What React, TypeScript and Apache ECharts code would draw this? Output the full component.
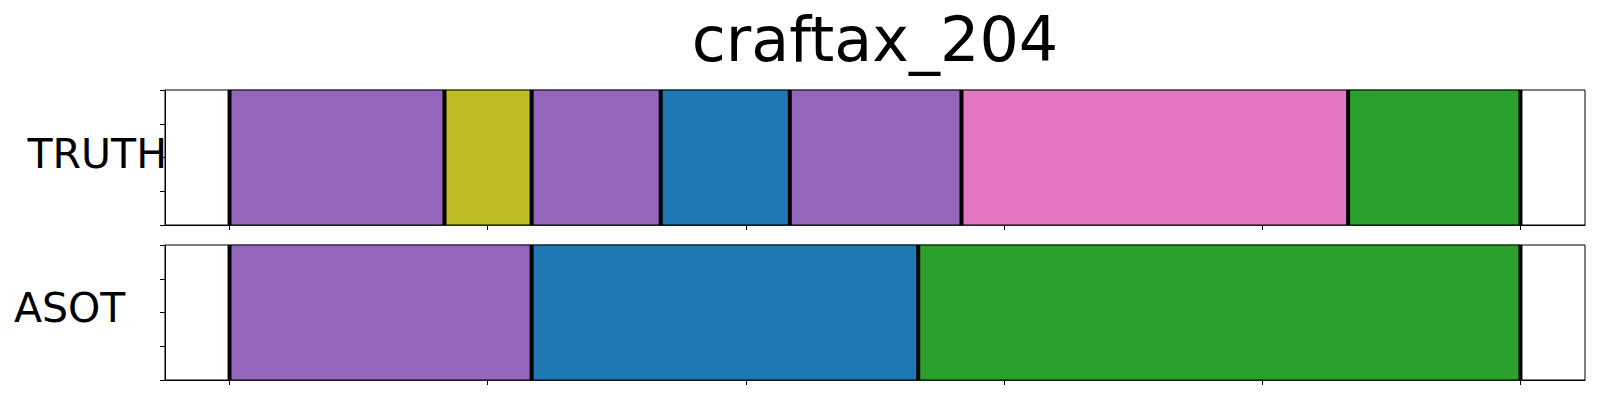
import React, { useEffect, useRef } from "react";
import * as echarts from "echarts";

const chartTitle = "craftax_204";
const rowNames = ["TRUTH", "ASOT"];
const xTicks = [0, 200, 400, 600, 800, 1000];
const yTicks = [0, 0.25, 0.5, 0.75, 1];

// segment boundaries (frame positions) and action ids per segment
const truthBounds = [0, 166.5, 234, 334, 434, 567, 866.5, 1000];
const truthActions = [4, 8, 4, 0, 4, 6, 2];
const asotBounds = [0, 234, 533.5, 1000];
const asotActions = [4, 0, 2];

const palette = [
  "#1f77b4", "#ff7f0e", "#2ca02c", "#d62728", "#9467bd",
  "#8c564b", "#e377c2", "#7f7f7f", "#bcbd22", "#17becf",
];

const FONT = "DejaVu Sans";

function segData(bounds: number[], actions: number[]) {
  return actions.map((a, i) => [bounds[i], bounds[i + 1], a]);
}

export default function App() {
  const ref = useRef<HTMLDivElement>(null);
  useEffect(() => {
    if (!ref.current) return;
    const chart = echarts.init(ref.current, null, { renderer: "svg" });
    const grids = [
      { left: 165, top: 90, width: 1420, height: 135 },
      { left: 165, top: 245, width: 1420, height: 135 },
    ];
    const xAxes = grids.map((_, i) => ({
      type: "value",
      gridIndex: i,
      min: -50,
      max: 1050,
      axisLine: { show: true, onZero: false, lineStyle: { color: "#000", width: 1 } },
      axisTick: {
        show: true,
        customValues: xTicks,
        length: 5,
        inside: false,
        lineStyle: { color: "#000", width: 1 },
      },
      axisLabel: { show: false },
      splitLine: { show: false },
    }));
    const yAxes = grids.map((_, i) => ({
      type: "value",
      gridIndex: i,
      position: "left",
      min: 0,
      max: 1,
      axisLine: { show: true, onZero: false, lineStyle: { color: "#000", width: 1 } },
      axisTick: {
        show: true,
        customValues: yTicks,
        length: 5,
        inside: false,
        lineStyle: { color: "#000", width: 1 },
      },
      axisLabel: { show: false },
      splitLine: { show: false },
    }));
    const segRender = (params: any, api: any) => {
      const s = api.value(0);
      const e = api.value(1);
      const a = api.value(2);
      const p0 = api.coord([s, 1]);
      const p1 = api.coord([e, 0]);
      return {
        type: "rect",
        shape: { x: p0[0], y: p0[1], width: p1[0] - p0[0], height: p1[1] - p0[1] },
        style: { fill: palette[a], stroke: palette[a], lineWidth: 1 },
      };
    };
    const lineRender = (params: any, api: any) => {
      const b = api.value(0);
      const p0 = api.coord([b, 0]);
      const p1 = api.coord([b, 1]);
      return {
        type: "line",
        shape: { x1: p0[0], y1: p0[1], x2: p1[0], y2: p1[1] },
        style: { stroke: "#000", lineWidth: 4 },
      };
    };
    const series: any[] = [];
    [
      [truthBounds, truthActions],
      [asotBounds, asotActions],
    ].forEach(([bounds, actions]: any, i) => {
      series.push({
        type: "custom",
        xAxisIndex: i,
        yAxisIndex: i,
        renderItem: segRender,
        data: segData(bounds, actions),
        encode: { x: [0, 1] },
        z: 2,
      });
      series.push({
        type: "custom",
        xAxisIndex: i,
        yAxisIndex: i,
        renderItem: lineRender,
        data: bounds.map((b: number) => [b]),
        encode: { x: 0 },
        z: 3,
      });
    });
    chart.setOption({
      animation: false,
      backgroundColor: "#fff",
      grid: grids.map((g) => ({
        ...g,
        show: true,
        borderColor: "#000",
        borderWidth: 1,
        backgroundColor: "transparent",
        z: 5,
      })),
      xAxis: xAxes,
      yAxis: yAxes,
      series,
      graphic: [
        {
          type: "text",
          x: 875,
          y: 39,
          style: {
            text: chartTitle,
            font: `62px '${FONT}'`,
            fill: "#000",
            align: "center",
            verticalAlign: "middle",
          },
        },
        {
          type: "text",
          x: 167,
          y: 154,
          style: {
            text: rowNames[0],
            font: `41px '${FONT}'`,
            fill: "#000",
            align: "right",
            verticalAlign: "middle",
          },
          z: 10,
        },
        {
          type: "text",
          x: 14,
          y: 308,
          style: {
            text: rowNames[1],
            font: `41px '${FONT}'`,
            fill: "#000",
            align: "left",
            verticalAlign: "middle",
          },
          z: 10,
        },
      ],
    });
    return () => chart.dispose();
  }, []);
  return (
    <div
      ref={ref}
      style={{ position: "fixed", left: 0, top: 0, width: 1600, height: 400, background: "#fff" }}
    />
  );
}
